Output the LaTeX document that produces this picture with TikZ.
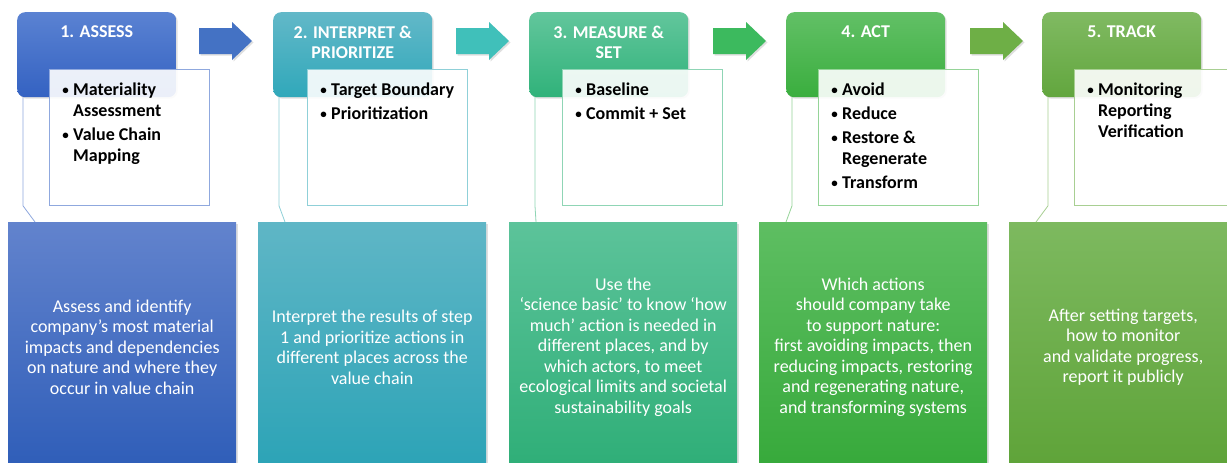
\documentclass[tikz,border=0pt]{standalone}
\usepackage{fontspec}
\setmainfont{Carlito}
\usepackage{xcolor}
\usetikzlibrary{positioning, calc, shadows}

% column colours: header top/bottom, description top/bottom, frame, arrow
\definecolor{assessTop}{HTML}{5A82D2}   \definecolor{assessBot}{HTML}{3462C2}
\definecolor{assessDTop}{HTML}{6283CD}  \definecolor{assessDBot}{HTML}{2E5DB8}
\definecolor{assessLine}{HTML}{8FA8DE}  \definecolor{assessArrow}{HTML}{4472C4}
\definecolor{interpTop}{HTML}{62B8C8}   \definecolor{interpBot}{HTML}{30A8BA}
\definecolor{interpDTop}{HTML}{5FB6C6}  \definecolor{interpDBot}{HTML}{2BA3B6}
\definecolor{interpLine}{HTML}{8FD0D8}  \definecolor{interpArrow}{HTML}{40C0BA}
\definecolor{measureTop}{HTML}{62C69C}  \definecolor{measureBot}{HTML}{30B27A}
\definecolor{measureDTop}{HTML}{5CC39A} \definecolor{measureDBot}{HTML}{2EAE77}
\definecolor{measureLine}{HTML}{8FD5B5} \definecolor{measureArrow}{HTML}{3CBA5E}
\definecolor{actTop}{HTML}{62C066}      \definecolor{actBot}{HTML}{3AAE3E}
\definecolor{actDTop}{HTML}{5EBE62}     \definecolor{actDBot}{HTML}{36A93A}
\definecolor{actLine}{HTML}{95D498}     \definecolor{actArrow}{HTML}{6EAF46}
\definecolor{trackTop}{HTML}{80BA62}    \definecolor{trackBot}{HTML}{62A63E}
\definecolor{trackDTop}{HTML}{7DB95F}   \definecolor{trackDBot}{HTML}{5EA338}
\definecolor{trackLine}{HTML}{A8CF92}

\tikzset{
  softshadow/.style={drop shadow={opacity=0.25, shadow xshift=1.5pt, shadow yshift=-1.5pt}},
  header/.style={rounded corners=8pt, minimum width=159pt, minimum height=85pt, anchor=north west, inner sep=0pt, softshadow},
  headtext/.style={anchor=north, inner sep=0pt, align=center, text=white, font=\fontsize{18}{20}\selectfont\bfseries},
  listbox/.style={draw, line width=0.8pt, fill=white, fill opacity=0.9, minimum width=160pt, minimum height=136pt, anchor=north west, inner sep=0pt},
  listtext/.style={anchor=north west, inner sep=0pt, font=\fontsize{18}{21}\selectfont\bfseries},
  descbox/.style={minimum width=228pt, minimum height=250pt, anchor=north west, inner sep=0pt, align=center, text=white, font=\fontsize{18}{20.5}\selectfont, softshadow},
  link/.style={line width=0.8pt},
}

% small bullet in a fixed-width slot
\newcommand{\bul}{\makebox[9pt][c]{\raisebox{1pt}{\fontsize{13}{13}\selectfont\textbullet}}}

% block arrow between two headers, left end at x=#1
\newcommand{\steparrow}[2]{%
  \fill[#2, softshadow] (#1,28) -- ++(33,0) -- ++(0,-6) -- ++(20,19) -- ++(-20,19) -- ++(0,-6) -- ++(-33,0) -- cycle;}

\begin{document}
\begin{tikzpicture}[x=1pt, y=-1pt]
    \useasboundingbox (0,0) rectangle (1227,463);
    \fill[white] (0,0) rectangle (1227,463);
    \clip (0,0) rectangle (1227,463);

    % headers
    \node[header, top color=assessTop, bottom color=assessBot] (hdrA) at (17,12) {};
    \node[header, top color=interpTop, bottom color=interpBot] (hdrB) at (273,12) {};
    \node[header, top color=measureTop, bottom color=measureBot] (hdrC) at (529,12) {};
    \node[header, top color=actTop, bottom color=actBot] (hdrD) at (786,12) {};
    \node[header, top color=trackTop, bottom color=trackBot] (hdrE) at (1042,12) {};

    \node[headtext] (headA) at ([yshift=-13.5pt]hdrA.north) {1. ASSESS};
    \node[headtext] (headB) at ([yshift=-13.5pt]hdrB.north) {2. INTERPRET \&\\PRIORITIZE};
    \node[headtext] (headC) at ([yshift=-13.5pt]hdrC.north) {3. MEASURE \&\\SET};
    \node[headtext] (headD) at ([yshift=-13.5pt]hdrD.north) {4. ACT};
    \node[headtext] (headE) at ([yshift=-13.5pt]hdrE.north) {5. TRACK};

    % arrows between the steps
    \steparrow{199}{assessArrow}
    \steparrow{456}{interpArrow}
    \steparrow{713}{measureArrow}
    \steparrow{970}{actArrow}

    % bullet boxes
    \node[listbox, draw=assessLine] (bulA) at (49,69) {};
    \node[listbox, draw=interpLine] (bulB) at (307,69) {};
    \node[listbox, draw=measureLine] (bulC) at (562,69) {};
    \node[listbox, draw=actLine] (bulD) at (818,69) {};
    \node[listbox, draw=trackLine] (bulE) at (1074,69) {};

    \node[listtext] (listA) at ($(bulA.north west)+(12,12)$) {%
      \begin{tabular}{@{}l@{\hskip 3pt}l@{}}
        \bul & Materiality\\ & Assessment\\[3pt]
        \bul & Value Chain\\ & Mapping
      \end{tabular}};
    \node[listtext] (listB) at ($(bulB.north west)+(12,12)$) {%
      \begin{tabular}{@{}l@{\hskip 3pt}l@{}}
        \bul & Target Boundary\\[3pt]
        \bul & Prioritization
      \end{tabular}};
    \node[listtext] (listC) at ($(bulC.north west)+(12,12)$) {%
      \begin{tabular}{@{}l@{\hskip 3pt}l@{}}
        \bul & Baseline\\[3pt]
        \bul & Commit + Set
      \end{tabular}};
    \node[listtext] (listD) at ($(bulD.north west)+(12,12)$) {%
      \begin{tabular}{@{}l@{\hskip 3pt}l@{}}
        \bul & Avoid\\[3pt]
        \bul & Reduce\\[3pt]
        \bul & Restore \&\\ & Regenerate\\[3pt]
        \bul & Transform
      \end{tabular}};
    \node[listtext] (listE) at ($(bulE.north west)+(12,12)$) {%
      \begin{tabular}{@{}l@{\hskip 3pt}l@{}}
        \bul & Monitoring\\ & Reporting\\ & Verification
      \end{tabular}};

    % descriptions
    \node[descbox, top color=assessDTop, bottom color=assessDBot] (descA) at (8,222)
      {Assess and identify\\company’s most material\\impacts and dependencies\\on nature and where they\\occur in value chain};
    \node[descbox, top color=interpDTop, bottom color=interpDBot] (descB) at (258,222)
      {Interpret the results of step\\1 and prioritize actions in\\different places across the\\value chain};
    \node[descbox, top color=measureDTop, bottom color=measureDBot] (descC) at (509,222)
      {Use the\\‘science basic’ to know ‘how\\much’ action is needed in\\different places, and by\\which actors, to meet\\ecological limits and societal\\sustainability goals};
    \node[descbox, top color=actDTop, bottom color=actDBot] (descD) at (759,222)
      {Which actions\\should company take\\to support nature:\\first avoiding impacts, then\\reducing impacts, restoring\\and regenerating nature,\\and transforming systems};
    \node[descbox, top color=trackDTop, bottom color=trackDBot] (descE) at (1009,222)
      {After setting targets,\\how to monitor\\and validate progress,\\report it publicly};

    % header-to-description links
    \draw[link, assessLine] ($(hdrA.south west)+(6,0)$) -- ($(hdrA.south west |- bulA.south)+(6,0)$) -- ($(descA.north west)+(27,0)$);
    \draw[link, interpLine] ($(hdrB.south west)+(6,0)$) -- ($(hdrB.south west |- bulB.south)+(6,0)$) -- ($(descB.north west)+(27,0)$);
    \draw[link, measureLine] ($(hdrC.south west)+(6,0)$) -- ($(hdrC.south west |- bulC.south)+(6,0)$) -- ($(descC.north west)+(27,0)$);
    \draw[link, actLine] ($(hdrD.south west)+(6,0)$) -- ($(hdrD.south west |- bulD.south)+(6,0)$) -- ($(descD.north west)+(27,0)$);
    \draw[link, trackLine] ($(hdrE.south west)+(6,0)$) -- ($(hdrE.south west |- bulE.south)+(6,0)$) -- ($(descE.north west)+(27,0)$);
\end{tikzpicture}
\end{document}
